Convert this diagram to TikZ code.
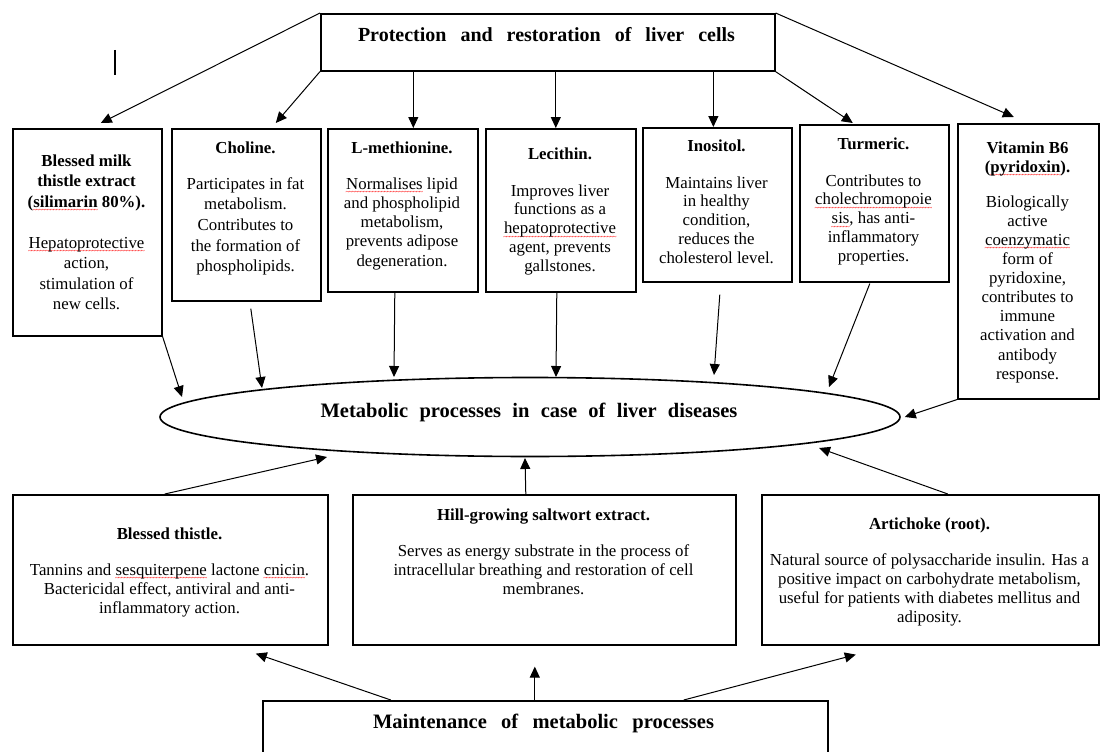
\documentclass[tikz,border=0pt]{standalone}
\usepackage{fontspec}
\setmainfont{Liberation Serif}
\usetikzlibrary{arrows.meta,shapes.geometric,calc}
\newcommand\sq[1]{\setbox0\hbox{#1}\rlap{\textcolor{red}{\lower5.5pt\hbox to\wd0{\fontsize{7.5}{7.5}\selectfont\mdseries\xleaders\hbox{\kern-0.6pt\char"7E\kern-0.6pt}\hfill}}}\box0\relax}
\begin{document}
\begin{tikzpicture}[x=1pt,y=-1pt,
  box/.style={draw, line width=1.6pt, inner sep=0pt, anchor=north west},
  txt/.style={align=center, inner sep=0pt, anchor=north, font=\fontsize{16.8}{#1}\selectfont},
  txt/.default=20.5,
  big/.style={anchor=base, inner sep=0pt, font=\bfseries\fontsize{20.5}{24}\selectfont},
  arr/.style={-{Triangle[length=11pt,width=10pt]}, line width=1pt}]
\path[use as bounding box, fill=white] (0,0) rectangle (1101,752);
\clip (0,0) rectangle (1101,752);

% stray bar
\draw[line width=2pt] (115,50) -- (115,75);

% top box
\node[box, minimum width=454, minimum height=57] (top) at (320,13) {};
\node[big, font=\bfseries\fontsize{20}{24}\selectfont] (topT) at (546.5,42) {\spaceskip=0.7em\relax Protection and restoration of liver cells};

% top row boxes
\node[box, minimum width=149, minimum height=207] (milk) at (12,128) {};
\node[box, minimum width=149, minimum height=172] (chol) at (171,128) {};
\node[box, minimum width=150, minimum height=163] (meth) at (327,128) {};
\node[box, minimum width=150, minimum height=163] (leci) at (485,128) {};
\node[box, minimum width=149, minimum height=154] (inos) at (642,127) {};
\node[box, minimum width=149, minimum height=157] (turm) at (799,124) {};
\node[box, minimum width=141, minimum height=275] (vitb) at (957,123) {};

\node[txt=20.5] (milkT) at (86.5,151.65) {\strut\textbf{Blessed milk}\\ \textbf{thistle extract}\\ \textbf{(\sq{silimarin} 80\%).}\\[20.5pt] \sq{Hepatoprotective}\\ action,\\ stimulation of\\ new cells.};
\node[txt=20.6] (cholT) at (245.5,138.6) {\strut\textbf{Choline.}\\[15.4pt] Participates in fat\\ metabolism.\\ Contributes to\\ the formation of\\ phospholipids.};
\node[txt=19.2] (methT) at (402,139.6) {\strut\textbf{L-methionine.}\\[16.8pt] \sq{Normalises} lipid\\ and phospholipid\\ metabolism,\\ prevents adipose\\ degeneration.};
\node[txt=18.8] (leciT) at (560,145.8) {\strut\textbf{Lecithin.}\\[18.2pt] Improves liver\\ functions as a\\ \sq{hepatoprotective}\\ agent, prevents\\ gallstones.};
\node[txt=18.8] (inosT) at (716.5,137.8) {\strut\textbf{Inositol.}\\[18.2pt] Maintains liver\\ in healthy\\ condition,\\ reduces the\\ cholesterol level.};
\node[txt=18.8] (turmT) at (873.5,135.8) {\strut\textbf{Turmeric.}\\[18.2pt] Contributes to\\ \sq{cholechromopoie}\\ \sq{sis}, has anti-\\ inflammatory\\ properties.};
\node[txt=19.1] (vitbT) at (1027.5,139.6) {\strut\textbf{Vitamin B6}\\ \textbf{(\sq{pyridoxin}).}\\[15.9pt] Biologically\\ active\\ \sq{coenzymatic}\\ form of\\ pyridoxine,\\ contributes to\\ immune\\ activation and\\ antibody\\ response.};

% ellipse
\node[draw, ellipse, line width=1.6pt, minimum width=740, minimum height=79, inner sep=0pt] (ell) at (530,417) {};
\node[big] (ellT) at (529,417) {\spaceskip=0.55em\relax Metabolic processes in case of liver diseases};

% bottom boxes
\node[box, minimum width=315, minimum height=150] (thist) at (12,494) {};
\node[box, minimum width=383, minimum height=150] (hill) at (352,494) {};
\node[box, minimum width=337, minimum height=150] (arti) at (761,494) {};
\node[txt=19] (thistT) at (169.5,525.7) {\strut\textbf{Blessed thistle.}\\[17pt] Tannins and \sq{sesquiterpene} lactone \sq{cnicin}.\\ Bactericidal effect, antiviral and anti-\\ inflammatory action.};
\node[txt=19] (hillT) at (543.5,506.7) {\strut\textbf{Hill-growing saltwort extract.}\\[17pt] Serves as energy substrate in the process of\\ intracellular breathing and restoration of cell\\ membranes.};
\node[txt=19] (artiT) at (929.5,515.7) {\strut\textbf{Artichoke (root).}\\[17pt] Natural source of polysaccharide insulin. Has a\\ positive impact on carbohydrate metabolism,\\ useful for patients with diabetes mellitus and\\ adiposity.};

% maintenance box
\node[box, minimum width=565, minimum height=80] (maint) at (262,700) {};
\node[big] (maintT) at (543.5,728) {\spaceskip=0.7em\relax Maintenance of metabolic processes};

% arrows from top box
\coordinate (s3) at ($(top.south west)!0.2048!(top.south east)$);
\coordinate (s4) at ($(top.south west)!0.5176!(top.south east)$);
\coordinate (s5) at ($(top.south west)!0.8634!(top.south east)$);
\draw[arr] (top.north west) -- ([xshift=13.5pt,yshift=5pt]milk.north);
\draw[arr] (top.south west) -- ([xshift=29.5pt,yshift=5pt]chol.north);
\draw[arr] (s3) -- (s3 |- meth.north);
\draw[arr] (s4) -- (s4 |- leci.north);
\draw[arr] (s5) -- (s5 |- inos.north);
\draw[arr] (top.south east) -- ([xshift=-21.5pt,yshift=1pt]turm.north);
\draw[arr] (top.north east) -- ([xshift=-14.5pt,yshift=6pt]vitb.north);

% arrows into ellipse
\draw[arr] (milk.south east) -- ([xshift=-348pt,yshift=20pt]ell.center);
\draw[arr] ([xshift=4.5pt,yshift=-7pt]chol.south) -- ([xshift=-268pt,yshift=29pt]ell.center);
\draw[arr] ([xshift=-8pt]meth.south) -- ([xshift=-136pt,yshift=40pt]ell.center);
\draw[arr] ([xshift=-4pt]leci.south) -- ([xshift=26pt,yshift=40pt]ell.center);
\draw[arr] ([xshift=2.5pt,yshift=-12pt]inos.south) -- ([xshift=184pt,yshift=42pt]ell.center);
\draw[arr] ([xshift=-4.5pt,yshift=-1pt]turm.south) -- ([xshift=299pt,yshift=30pt]ell.center);
\draw[arr] (vitb.south west) -- ([xshift=4pt]ell.east);
\draw[arr] ([xshift=-5.5pt]thist.north) -- ([xshift=-203pt,yshift=-40pt]ell.center);
\draw[arr] ([xshift=-18.5pt]hill.north) -- ([xshift=-5pt,yshift=-41pt]ell.center);
\draw[arr] ([xshift=17.5pt]arti.north) -- ([xshift=289pt,yshift=-31pt]ell.center);

% arrows from maintenance box
\draw[arr] ([xshift=-154.5pt]maint.north) -- ([xshift=85.5pt,yshift=-8pt]thist.south);
\draw[arr] ([xshift=-10.5pt]maint.north) -- ([xshift=-9.5pt,yshift=-21pt]hill.south);
\draw[arr] ([xshift=138.5pt]maint.north) -- ([xshift=-74.5pt,yshift=-9pt]arti.south);
\end{tikzpicture}
\end{document}
